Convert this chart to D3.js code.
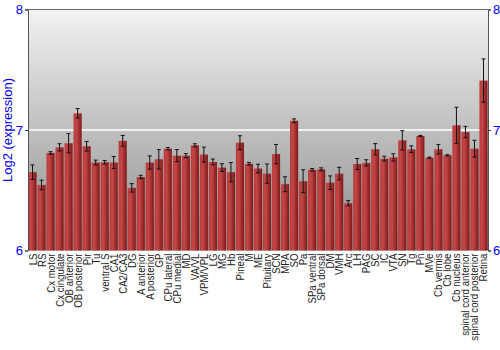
<!DOCTYPE html>
<html><head><meta charset="utf-8">
<script src="https://cdn.jsdelivr.net/npm/d3@7"></script>
<style>body{margin:0;background:#fff}svg{display:block}</style>
</head><body>
<script>
const categories = ["LS","RS","Cx motor","Cx cingulate","OB anterior","OB posterior","Pir","Tu","ventral S","CA1","CA2/CA3","DG","A anterior","A posterior","GP","CPu lateral","CPu medial","MD","VA/VL","VPM/VPL","LG","MG","Hb","Pineal","M","ME","Pituitary","SCN","MPA","SO","Pa","SPa ventral","SPa dorsal","DM","VMH","Arc","LH","PAG","SC","IC","VTA","SN","Tg","Pn","MVe","Cb vermis","Cb lobe","Cb nucleus","spinal cord anterior","spinal cord posterior","Retina"];
const values = [6.65,6.544,6.81,6.856,6.89,7.138,6.865,6.73,6.732,6.73,6.91,6.52,6.61,6.73,6.757,6.845,6.787,6.787,6.873,6.796,6.735,6.688,6.65,6.895,6.72,6.68,6.638,6.8,6.55,7.077,6.575,6.67,6.674,6.563,6.638,6.392,6.718,6.727,6.84,6.762,6.773,6.914,6.84,6.95,6.77,6.84,6.79,7.039,6.983,6.845,7.41];
const errors = [0.06,0.04,0.01,0.03,0.08,0.04,0.04,0.02,0.015,0.05,0.045,0.035,0.014,0.055,0.08,0.01,0.05,0.017,0.013,0.062,0.024,0.032,0.08,0.057,0.011,0.036,0.08,0.08,0.062,0.015,0.095,0.01,0.012,0.056,0.052,0.022,0.045,0.026,0.047,0.02,0.03,0.08,0.028,0.005,0.005,0.04,0.005,0.15,0.047,0.07,0.18];
const yTicks = [6,7,8];
const yLabel = "Log2 (expression)";

const W = 500, H = 350;
const m = {left:28, right:12, top:9.5, bottom:100};
const svg = d3.select("body").append("svg").attr("width",W).attr("height",H);
const x = d3.scaleBand().domain(categories).range([m.left, W-m.right]).paddingInner(0.1).paddingOuter(0.05);
const y = d3.scaleLinear().domain([6,8]).range([H-m.bottom+0.5, m.top]);

const defs = svg.append("defs");
const bg = defs.append("linearGradient").attr("id","bg").attr("x1",0).attr("y1",0).attr("x2",0).attr("y2",1);
bg.append("stop").attr("offset","0%").attr("stop-color","#f2f2f2");
bg.append("stop").attr("offset","100%").attr("stop-color","#8c8c8c");
const bar = defs.append("linearGradient").attr("id","bar").attr("x1",0).attr("y1",0).attr("x2",1).attr("y2",0);
bar.append("stop").attr("offset","0%").attr("stop-color","#b83a3a");
bar.append("stop").attr("offset","35%").attr("stop-color","#c64646");
bar.append("stop").attr("offset","100%").attr("stop-color","#7e1818");

svg.append("rect").attr("x",m.left).attr("y",y(8)).attr("width",W-m.right-m.left).attr("height",y(6)-y(8)).attr("fill","url(#bg)");

svg.append("line").attr("x1",m.left).attr("x2",W-m.right).attr("y1",y(7)).attr("y2",y(7))
  .attr("stroke","#f0f0f0").attr("stroke-width",2);

const g = svg.append("g");
g.selectAll("rect.b").data(values).join("rect").attr("class","b")
  .attr("x",(d,i)=>x(categories[i])).attr("width",x.bandwidth())
  .attr("y",d=>y(d)).attr("height",d=>y(6)-y(d)).attr("fill","url(#bar)");

const eb = g.selectAll("g.e").data(values).join("g").attr("class","e")
  .attr("stroke","#111").attr("stroke-width",1);
const cx = i => x(categories[i])+x.bandwidth()/2;
eb.append("line").attr("x1",(d,i)=>cx(i)).attr("x2",(d,i)=>cx(i))
  .attr("y1",(d,i)=>y(d+errors[i])).attr("y2",(d,i)=>y(d-errors[i]));
eb.append("line").attr("x1",(d,i)=>cx(i)-2).attr("x2",(d,i)=>cx(i)+2)
  .attr("y1",(d,i)=>y(d+errors[i])).attr("y2",(d,i)=>y(d+errors[i]));
eb.append("line").attr("x1",(d,i)=>cx(i)-2).attr("x2",(d,i)=>cx(i)+2)
  .attr("y1",(d,i)=>y(d-errors[i])).attr("y2",(d,i)=>y(d-errors[i]));

svg.append("line").attr("x1",m.left).attr("x2",W-m.right).attr("y1",y(8)).attr("y2",y(8)).attr("stroke","#666");

const yl = svg.append("g").attr("transform",`translate(${m.left},0)`)
  .call(d3.axisLeft(y).tickValues(yTicks).tickFormat(d3.format("d")).tickSize(3).tickPadding(2));
const yr = svg.append("g").attr("transform",`translate(${W-m.right},0)`)
  .call(d3.axisRight(y).tickValues(yTicks).tickFormat(d3.format("d")).tickSize(3).tickPadding(2));
[yl,yr].forEach(a=>{
  a.selectAll("path").attr("stroke","#555");
  a.selectAll("line").attr("stroke","#333");
  a.selectAll("text").attr("fill","#0000ff").style("font-family","Liberation Sans, Arial, sans-serif").style("font-size","13px");
});

svg.append("g").selectAll("text").data(categories).join("text")
  .attr("transform",d=>`translate(${x(d)+x.bandwidth()/2+4},${y(6)+3}) rotate(-90) scale(0.88,1)`)
  .attr("text-anchor","end").attr("fill","#222")
  .style("font-family","Liberation Sans, Arial, sans-serif").style("font-size","11px")
  .text(d=>d);

svg.append("text").attr("transform",`translate(12,${(y(6)+y(8))/2}) rotate(-90)`)
  .attr("text-anchor","middle").attr("fill","#0000ff")
  .style("font-family","Liberation Sans, Arial, sans-serif").style("font-size","13px").text(yLabel);
</script>
</body></html>
